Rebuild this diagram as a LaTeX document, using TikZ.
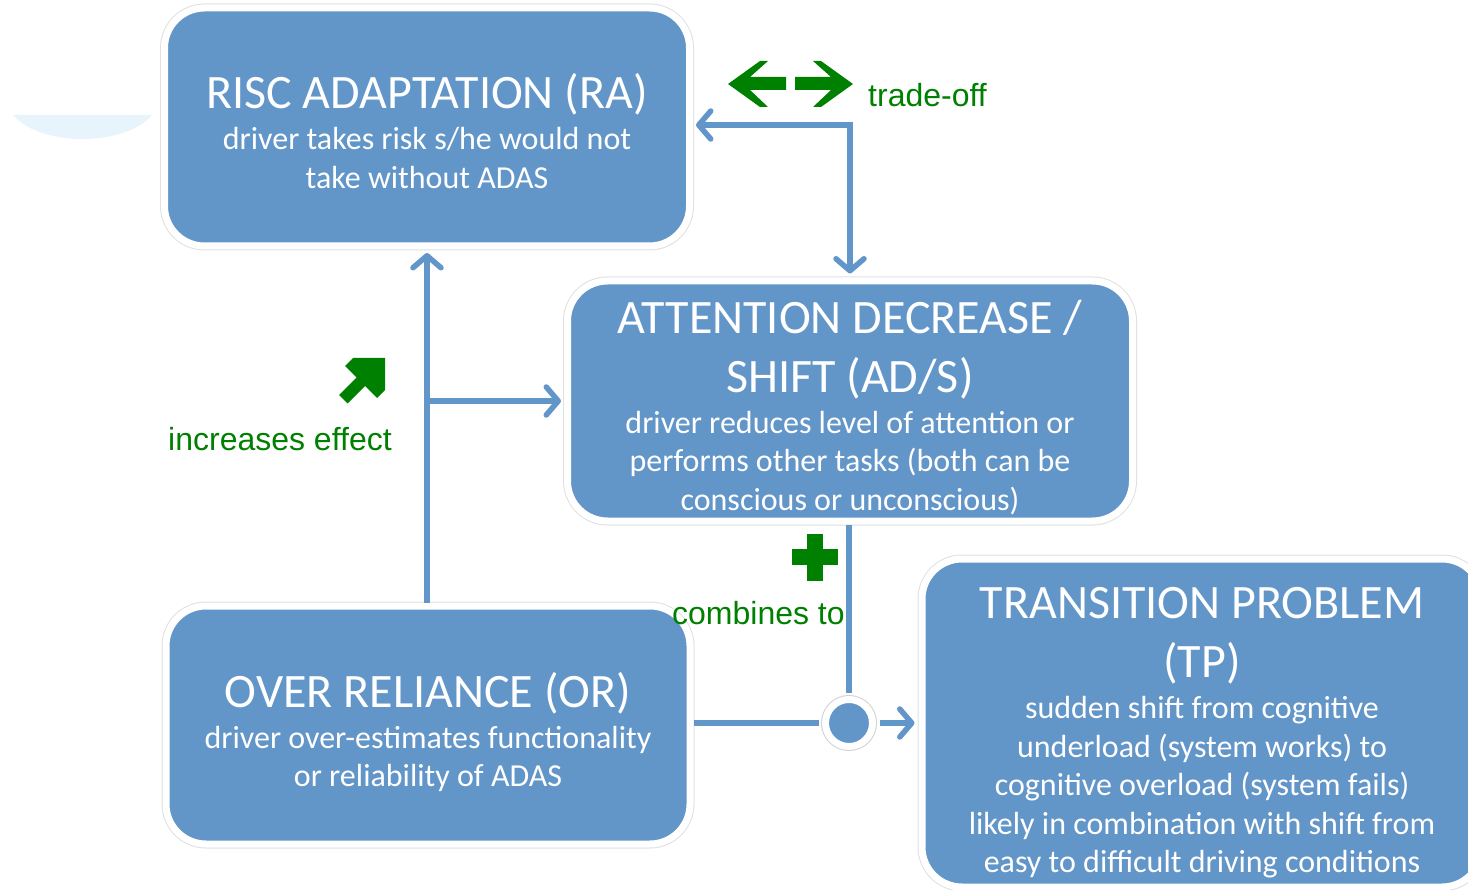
\documentclass[tikz,border=0pt]{standalone}
\usepackage{fontspec}
\setmainfont{Carlito}
\newfontfamily\arialfont{Liberation Sans}
\usetikzlibrary{arrows.meta,shadows}
\definecolor{boxblue}{RGB}{98,149,200}
\definecolor{lblgreen}{RGB}{0,128,0}
\definecolor{decoblue}{RGB}{231,244,251}
\newcommand{\fixspaces}{\spaceskip=\fontdimen2\font\xspaceskip=\fontdimen2\font\relax}
\newcommand{\boxtitle}[1]{\centering\fontsize{48}{59}\selectfont\fixspaces\rule{0pt}{#1}}
\newcommand{\boxsub}{\par\vskip 2.5pt\fontsize{32}{38.5}\selectfont\fixspaces}
\begin{document}
\begin{tikzpicture}[x=1pt,y=-1pt,
  box/.style={rounded corners=40pt, fill=boxblue, draw=white, line width=7pt,
    text=white, inner sep=0pt,
    preaction={draw=black!12, line width=9pt},
    drop shadow={shadow xshift=1pt, shadow yshift=-3pt, opacity=0.22, fill=black}},
  junction/.style={circle, fill=boxblue, draw=white, line width=7pt,
    minimum size=47pt, inner sep=0pt,
    preaction={draw=black!18, line width=9pt},
    drop shadow={shadow xshift=1pt, shadow yshift=-3pt, opacity=0.3, fill=black}},
  conn/.style={draw=boxblue, line width=5.5pt},
  >={Straight Barb[length=12pt,width=28pt,round]},
  lbl/.style={font=\arialfont\fontsize{32}{38}\selectfont, text=lblgreen, inner sep=0pt, anchor=base west},
  sym/.style={fill=lblgreen}]
\useasboundingbox (0,0) rectangle (1468,890);
\clip (0,0) rectangle (1468,890);

% faint background decoration
\fill[decoblue] (13,115) .. controls (40,147) and (125,147) .. (152,115) -- cycle;

% boxes
\node[box, minimum width=525pt, minimum height=238pt, text width=505pt] (RA) at (427,127)
  {\boxtitle{43.5pt}RISC ADAPTATION (RA)\boxsub driver takes risk s/he would not\\take without ADAS\par};
\node[box, minimum width=565pt, minimum height=240pt, text width=545pt] (AD) at (850,401)
  {\boxtitle{46pt}ATTENTION DECREASE /\\SHIFT (AD/S)\boxsub driver reduces level of attention or\\performs other tasks (both can be\\conscious or unconscious)\par};
\node[box, minimum width=524pt, minimum height=238pt, text width=504pt] (OR) at (428,725)
  {\boxtitle{49.5pt}OVER RELIANCE (OR)\boxsub driver over-estimates functionality\\or reliability of ADAS\par};
\node[box, minimum width=560pt, minimum height=328pt, text width=540pt] (TP) at (1202,723)
  {\boxtitle{51pt}TRANSITION PROBLEM\\(TP)\boxsub sudden shift from cognitive\\underload (system works) to\\cognitive overload (system fails)\\likely in combination with shift from\\easy to difficult driving conditions\par};

% junction
\node[junction] (J) at (849,723) {};

% connectors
\coordinate (T) at (AD.north |- 0,125);
\draw[conn, <->, shorten <=3pt, shorten >=4pt] (RA.east |- T) -- (T) -- (AD.north);
\draw[conn, ->, shorten >=3.5pt] (RA.south |- OR.north) -- (RA.south);
\coordinate (B) at (RA.south |- AD.west);
\draw[conn, ->, shorten >=3pt] (B) -- (AD.west);
\draw[conn, shorten >=3.5pt] (J |- AD.south) -- (J);
\draw[conn, shorten >=3.5pt] (OR.east |- J) -- (J);
\draw[conn, ->, shorten <=3.5pt, shorten >=4pt] (J) -- (J -| TP.west);

% green symbols
\fill[sym] (728,84) -- (760,61) -- (768,61) -- (750,77) -- (786,77) -- (786,90) -- (750,90) -- (768,107) -- (760,107) -- cycle;
\fill[sym] (853,84) -- (821,61) -- (813,61) -- (831,77) -- (795,77) -- (795,90) -- (831,90) -- (813,107) -- (821,107) -- cycle;
\fill[sym] (385,358) -- (353,358) -- (345,366) -- (356.5,377.5) -- (339,395) -- (347.5,403.5) -- (365,386) -- (377,398) -- (385,390) -- cycle;
\fill[sym] (807,534) rectangle (823,581);
\fill[sym] (792,549) rectangle (838,565);

% labels
\node[lbl] (tradeoff) at (868,107) {trade-off};
\node[lbl] (incr) at (168,451) {increases effect};
\node[lbl] (comb) at (672,624) {combines to};
\end{tikzpicture}
\end{document}
